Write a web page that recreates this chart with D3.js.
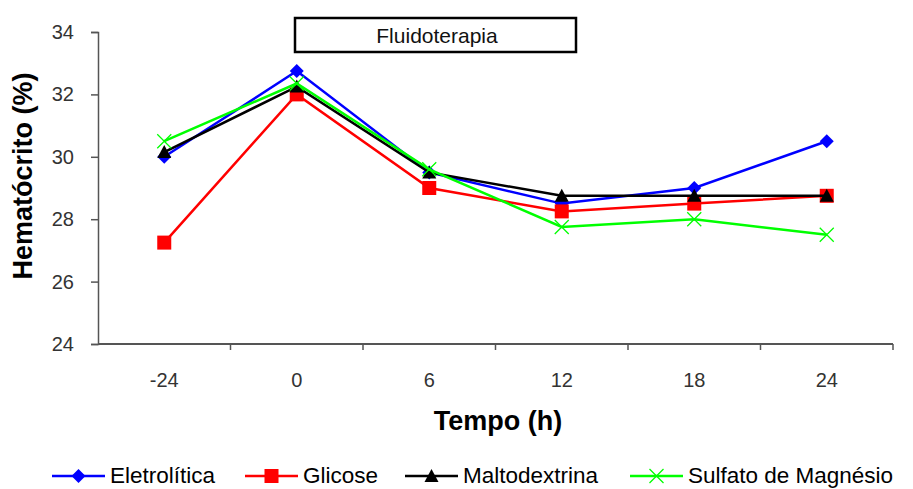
<!DOCTYPE html>
<html>
<head>
<meta charset="utf-8">
<script src="https://cdn.jsdelivr.net/npm/d3@7"></script>
<style>
  html, body { margin: 0; padding: 0; background: #fff; }
  svg { display: block; font-family: "Liberation Sans", Arial, sans-serif; }
</style>
</head>
<body>
<svg id="chart" width="913" height="489"></svg>
<script>
// Time points (h)
const categories = ["-24", "0", "6", "12", "18", "24"];

// Hematocrit (%) per fluid therapy group
const eletrolitica = [30.0, 32.75, 29.5, 28.5, 29.0, 30.5];
const glicose      = [27.25, 32.0, 29.0, 28.25, 28.5, 28.75];
const maltodextrina = [30.15, 32.25, 29.5, 28.75, 28.75, 28.75];
const sulfato      = [30.5, 32.35, 29.6, 27.75, 28.0, 27.5];

const seriesNames = ["Eletrolítica", "Glicose", "Maltodextrina", "Sulfato de Magnésio"];
const yTicks = [24, 26, 28, 30, 32, 34];

const series = [
  { name: seriesNames[0], values: eletrolitica, color: "#0000ff", shape: "diamond" },
  { name: seriesNames[1], values: glicose, color: "#ff0000", shape: "square" },
  { name: seriesNames[2], values: maltodextrina, color: "#000000", shape: "triangle" },
  { name: seriesNames[3], values: sulfato, color: "#00ff00", shape: "cross" }
];

const svg = d3.select("#chart");
const plotLeft = 98, plotRight = 893, plotTop = 32, plotBottom = 344;

const x = d3.scaleBand().domain(categories).range([plotLeft, plotRight]);
const y = d3.scaleLinear().domain([24, 34]).range([plotBottom, plotTop]);

// Y axis
const yAxis = d3.axisLeft(y).tickValues(yTicks).tickSize(7).tickPadding(17);
const gy = svg.append("g").attr("transform", `translate(${plotLeft},0)`).call(yAxis);
gy.select(".domain").attr("stroke", "#555").attr("stroke-width", 1.5);
gy.selectAll(".tick line").attr("stroke", "#555").attr("stroke-width", 1.5);
gy.selectAll(".tick text").attr("font-size", 20).attr("fill", "#333")
  .attr("font-family", "Liberation Sans, Arial, sans-serif");

// X axis: ticks at band boundaries
const gx = svg.append("g").attr("transform", `translate(0,${plotBottom})`);
gx.append("line").attr("x1", plotLeft).attr("x2", plotRight).attr("stroke", "#555").attr("stroke-width", 2);
const boundaries = categories.map(c => x(c) + x.bandwidth());
gx.selectAll(".bt").data(boundaries).enter().append("line")
  .attr("x1", d => d).attr("x2", d => d).attr("y1", 0).attr("y2", 6)
  .attr("stroke", "#555").attr("stroke-width", 1.5);
gx.selectAll(".lbl").data(categories).enter().append("text")
  .attr("x", d => x(d) + x.bandwidth() / 2).attr("y", 43)
  .attr("text-anchor", "middle").attr("font-size", 20).attr("fill", "#333")
  .text(d => d);

// Axis titles
svg.append("text").attr("x", 498).attr("y", 430).attr("text-anchor", "middle")
  .attr("font-size", 27).attr("font-weight", "bold").text("Tempo (h)");
svg.append("text").attr("transform", "translate(32,176) rotate(-90)")
  .attr("text-anchor", "middle").attr("font-size", 27).attr("font-weight", "bold")
  .text("Hematócrito (%)");

// Fluidoterapia box
svg.append("rect").attr("x", 295).attr("y", 18).attr("width", 281).attr("height", 34)
  .attr("fill", "#fff").attr("stroke", "#000").attr("stroke-width", 2.5);
svg.append("text").attr("x", 437).attr("y", 43).attr("text-anchor", "middle")
  .attr("font-size", 21).attr("fill", "#111").text("Fluidoterapia");

// Marker drawing
function drawMarker(g, shape, color, cx, cy) {
  if (shape === "diamond") {
    g.append("path").attr("d", `M${cx},${cy - 7}L${cx + 7},${cy}L${cx},${cy + 7}L${cx - 7},${cy}Z`)
      .attr("fill", color);
  } else if (shape === "square") {
    g.append("rect").attr("x", cx - 7).attr("y", cy - 7).attr("width", 14).attr("height", 14)
      .attr("fill", color);
  } else if (shape === "triangle") {
    g.append("path").attr("d", `M${cx},${cy - 7}L${cx + 7},${cy + 6}L${cx - 7},${cy + 6}Z`)
      .attr("fill", color);
  } else {
    g.append("path").attr("d", `M${cx - 7},${cy - 7}L${cx + 7},${cy + 7}M${cx + 7},${cy - 7}L${cx - 7},${cy + 7}`)
      .attr("stroke", color).attr("stroke-width", 1.3).attr("fill", "none");
  }
}

const line = d3.line()
  .x((d, i) => x(categories[i]) + x.bandwidth() / 2)
  .y(d => y(d));

series.forEach(s => {
  const g = svg.append("g");
  g.append("path").attr("d", line(s.values)).attr("fill", "none")
    .attr("stroke", s.color).attr("stroke-width", 2.5);
  s.values.forEach((v, i) => {
    drawMarker(g, s.shape, s.color, x(categories[i]) + x.bandwidth() / 2, y(v));
  });
});

// Legend
const legendX = [52, 245, 405, 630];
const ly = 476;
series.forEach((s, i) => {
  const g = svg.append("g");
  const x0 = legendX[i];
  g.append("line").attr("x1", x0).attr("x2", x0 + 53).attr("y1", ly).attr("y2", ly)
    .attr("stroke", s.color).attr("stroke-width", 2.5);
  drawMarker(g, s.shape, s.color, x0 + 26.5, ly);
  g.append("text").attr("x", x0 + 58).attr("y", ly + 7).attr("font-size", 22.5)
    .attr("fill", "#000").text(s.name);
});
</script>
</body>
</html>
